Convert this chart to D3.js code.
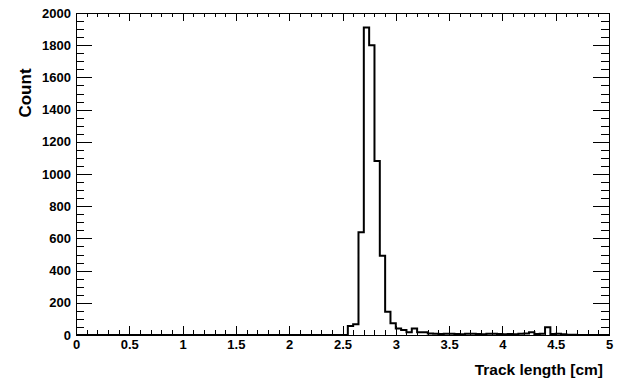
<!DOCTYPE html>
<html>
<head>
<meta charset="utf-8">
<script src="https://cdn.jsdelivr.net/npm/d3@7"></script>
<style>
  body { margin: 0; background: #fff; }
  svg { display: block; }
  .tick text { font-family: "Liberation Sans", Arial, sans-serif; font-weight: bold; }
</style>
</head>
<body>
<div id="chart"></div>
<script>
// Histogram: 100 bins of 0.05 cm from 0 to 5 cm
const binWidth = 0.05;
const firstFilledBin = 2.55; // all bins below are empty
const filledCounts = [
  56, 66, 638, 1910, 1800, 1080, 493, 145, 73, 40,
  31, 17, 40, 17, 17, 10, 8, 6, 8, 7,
  6, 5, 8, 7, 6, 5, 7, 8, 6, 5,
  6, 5, 8, 10, 17, 6, 8, 48, 6, 8,
  4, 2, 1
];
const xMajor = [0, 0.5, 1, 1.5, 2, 2.5, 3, 3.5, 4, 4.5, 5];
const yMajor = [0, 200, 400, 600, 800, 1000, 1200, 1400, 1600, 1800, 2000];
const xTitle = 'Track length [cm]';
const yTitle = 'Count';

const width = 621;
const height = 383;
const margin = { left: 76, right: 12, top: 13, bottom: 48 };

// Build the full list of bins
const nBins = 100;
const startIndex = Math.round(firstFilledBin / binWidth);
const bins = d3.range(nBins).map((i) => {
  const k = i - startIndex;
  return { x0: +(i * binWidth).toFixed(2), count: k >= 0 && k < filledCounts.length ? filledCounts[k] : 0 };
});

const x = d3.scaleLinear().domain([0, 5]).range([margin.left, width - margin.right]);
const y = d3.scaleLinear().domain([0, 2000]).range([height - margin.bottom, margin.top]);

const svg = d3
  .select('#chart')
  .append('svg')
  .attr('width', width)
  .attr('height', height);

svg.append('rect').attr('width', width).attr('height', height).attr('fill', '#fff');

// Minor tick values
const xMinor = d3.range(0, 5.0001, 0.1).map((d) => +d.toFixed(2)).filter((d) => !xMajor.includes(d));
const yMinor = d3.range(0, 2001, 50).filter((d) => !yMajor.includes(d));

const fmt = (d) => String(d);

function drawAxis(axis, tx, ty, labels) {
  const g = svg.append('g').attr('transform', `translate(${tx},${ty})`).call(axis);
  g.select('.domain').remove();
  g.selectAll('line').attr('stroke', '#000').attr('shape-rendering', 'crispEdges');
  if (!labels) g.selectAll('text').remove();
  return g;
}

const bottomY = height - margin.bottom;
const rightX = width - margin.right;

// Bottom axis
drawAxis(d3.axisBottom(x).tickValues(xMinor).tickSize(-5).tickFormat(''), 0, bottomY, false);
drawAxis(d3.axisBottom(x).tickValues(xMajor).tickSize(-9).tickPadding(5).tickFormat(fmt), 0, bottomY, true)
  .selectAll('text').attr('font-size', 13).attr('fill', '#000');
// Top axis
drawAxis(d3.axisTop(x).tickValues(xMinor).tickSize(-4), 0, margin.top, false);
drawAxis(d3.axisTop(x).tickValues(xMajor).tickSize(-8), 0, margin.top, false);
// Left axis
drawAxis(d3.axisLeft(y).tickValues(yMinor).tickSize(-8).tickFormat(''), margin.left, 0, false);
drawAxis(d3.axisLeft(y).tickValues(yMajor).tickSize(-16).tickPadding(5).tickFormat(fmt), margin.left, 0, true)
  .selectAll('text').attr('font-size', 13).attr('fill', '#000');
// Right axis
drawAxis(d3.axisRight(y).tickValues(yMinor).tickSize(-8), rightX, 0, false);
drawAxis(d3.axisRight(y).tickValues(yMajor).tickSize(-16), rightX, 0, false);

// Frame
svg
  .append('rect')
  .attr('x', margin.left + 0.5)
  .attr('y', margin.top + 0.5)
  .attr('width', rightX - margin.left)
  .attr('height', bottomY - margin.top)
  .attr('fill', 'none')
  .attr('stroke', '#000')
  .attr('stroke-width', 1);

// Histogram outline as a step line
const stepData = bins.map((b) => ({ x: b.x0, c: b.count }));
stepData.push({ x: 5, c: bins[nBins - 1].count });

const line = d3
  .line()
  .x((d) => x(d.x))
  .y((d) => y(d.c))
  .curve(d3.curveStepAfter);

svg
  .append('path')
  .datum(stepData)
  .attr('d', line)
  .attr('fill', 'none')
  .attr('stroke', '#000')
  .attr('stroke-width', 2)
  .attr('stroke-linejoin', 'miter');

// Axis titles
svg
  .append('text')
  .attr('x', 603)
  .attr('y', 375)
  .attr('text-anchor', 'end')
  .attr('font-family', '"Liberation Sans", Arial, sans-serif')
  .attr('font-weight', 'bold')
  .attr('font-size', 15.5)
  .text(xTitle);

svg
  .append('text')
  .attr('transform', 'translate(31,93) rotate(-90)')
  .attr('text-anchor', 'middle')
  .attr('font-family', '"Liberation Sans", Arial, sans-serif')
  .attr('font-weight', 'bold')
  .attr('font-size', 17)
  .text(yTitle);
</script>
</body>
</html>
